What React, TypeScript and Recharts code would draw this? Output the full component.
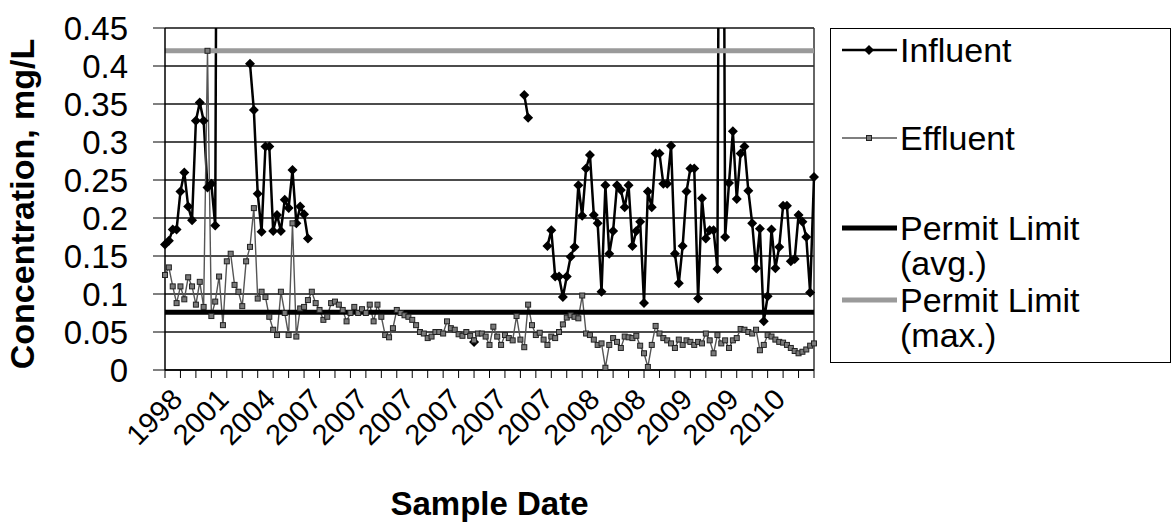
import { LineChart, Line, XAxis, YAxis, CartesianGrid, ReferenceLine } from "recharts";

const FONT = "'Liberation Sans', Arial, sans-serif";

// influent runs: [index of first sample, readings]. 1.5 marks readings off the top of the scale
const influent1998 = [0.165, 0.17, 0.185, 0.185, 0.235, 0.26, 0.215, 0.197, 0.328, 0.352, 0.328, 0.24, 0.245, 0.19, 1.5];
const influent2004 = [0.403, 0.342, 0.232, 0.182, 0.294, 0.294, 0.183, 0.204, 0.183, 0.224, 0.213, 0.263, 0.193, 0.215, 0.205, 0.173];
const influent2007a = [0.037];
const influent2007b = [0.362, 0.332];
const influent2007c = [
  0.163, 0.184, 0.123, 0.123, 0.096, 0.123, 0.149, 0.162, 0.243, 0.203,
  0.265, 0.283, 0.204, 0.193, 0.103, 0.243, 0.153, 0.183, 0.243, 0.237,
  0.214, 0.243, 0.163, 0.183, 0.195, 0.088, 0.235, 0.214, 0.285, 0.285,
  0.245, 0.245, 0.295, 0.153, 0.114, 0.163, 0.235, 0.265, 0.265, 0.094,
  0.226, 0.173, 0.184, 0.184, 0.133, 1.5, 0.175, 0.246, 0.314, 0.225,
  0.285, 0.294, 0.236, 0.193, 0.134, 0.186, 0.064, 0.097, 0.185, 0.134,
  0.162, 0.216, 0.216, 0.143, 0.146, 0.204, 0.195, 0.175, 0.102, 0.254,
];
const influentRuns: [number, number[]][] = [
  [0, influent1998],
  [22, influent2004],
  [80, influent2007a],
  [93, influent2007b],
  [99, influent2007c],
];

const effluent = [
  0.125, 0.135, 0.11, 0.088, 0.11, 0.093, 0.122, 0.11, 0.086, 0.116,
  0.083, 0.42, 0.071, 0.09, 0.123, 0.059, 0.143, 0.153, 0.112, 0.103,
  0.084, 0.143, 0.162, 0.213, 0.094, 0.103, 0.096, 0.07, 0.053, 0.046,
  0.103, 0.075, 0.046, 0.193, 0.044, 0.081, 0.083, 0.092, 0.103, 0.088,
  0.079, 0.066, 0.07, 0.088, 0.09, 0.086, 0.079, 0.064, 0.075, 0.083,
  0.075, 0.08, 0.075, 0.086, 0.064, 0.086, 0.07, 0.046, 0.043, 0.055,
  0.079, 0.075, 0.072, 0.07, 0.066, 0.059, 0.05, 0.048, 0.042, 0.044,
  0.05, 0.05, 0.048, 0.064, 0.055, 0.053, 0.047, 0.045, 0.05, 0.045,
  0.039, 0.048, 0.048, 0.044, 0.033, 0.057, 0.044, 0.033, 0.046, 0.042,
  0.039, 0.071, 0.04, 0.03, 0.086, 0.059, 0.046, 0.049, 0.04, 0.033,
  0.044, 0.042, 0.05, 0.06, 0.069, 0.072, 0.07, 0.068, 0.098, 0.048,
  0.046, 0.04, 0.033, 0.035, 0.003, 0.033, 0.042, 0.037, 0.029, 0.044,
  0.043, 0.042, 0.045, 0.032, 0.022, 0.004, 0.033, 0.058, 0.048, 0.042,
  0.039, 0.035, 0.029, 0.04, 0.033, 0.039, 0.037, 0.033, 0.037, 0.035,
  0.048, 0.039, 0.022, 0.046, 0.035, 0.039, 0.029, 0.039, 0.042, 0.054,
  0.053, 0.05, 0.048, 0.053, 0.026, 0.033, 0.046, 0.044, 0.04, 0.037,
  0.036, 0.033, 0.029, 0.025, 0.022, 0.024, 0.027, 0.032, 0.035,
];

const PERMIT_AVG = 0.076;
const PERMIT_MAX = 0.42;

const yTicks = [0, 0.05, 0.1, 0.15, 0.2, 0.25, 0.3, 0.35, 0.4, 0.45];
// one label every 12 samples
const yearLabels = ["1998", "2001", "2004", "2007", "2007", "2007", "2007", "2007", "2007", "2008", "2008", "2009", "2009", "2010"];

const influent: (number | null)[] = effluent.map(() => null);
influentRuns.forEach(([start, vals]) => {
  vals.forEach((v, k) => {
    influent[start + k] = v;
  });
});

const rows = effluent.map((e, i) => ({
  n: i,
  influent: influent[i],
  effluent: e,
  avg: PERMIT_AVG,
  max: PERMIT_MAX,
}));

function diamond(props: any) {
  const { cx, cy, index, value } = props;
  if (value == null || cy == null) return <g key={`in-${index}`} />;
  const r = 5;
  return (
    <path
      key={`in-${index}`}
      d={`M${cx},${cy - r}L${cx + r},${cy}L${cx},${cy + r}L${cx - r},${cy}Z`}
      fill="#000"
    />
  );
}

function square(props: any) {
  const { cx, cy, index, value } = props;
  if (value == null || cy == null) return <g key={`ef-${index}`} />;
  return (
    <rect key={`ef-${index}`} x={cx - 2.5} y={cy - 2.5} width={5} height={5} fill="#7a7a7a" stroke="#222" strokeWidth={1} />
  );
}

function YearTick(props: any) {
  const { x, y, payload } = props;
  const n = payload.value;
  if (n % 12 !== 0) return null;
  const ax = x + 12;
  const ay = y + 14;
  return (
    <text
      x={ax}
      y={ay}
      dy="0.35em"
      textAnchor="end"
      transform={`rotate(-45 ${ax} ${ay})`}
      fontSize={29}
      fontFamily={FONT}
      fill="#000"
    >
      {yearLabels[n / 12]}
    </text>
  );
}

function Legend() {
  const text = { fontSize: 34, fontFamily: FONT, fill: "#000" };
  return (
    <svg width={342} height={336} style={{ position: "absolute", left: 830, top: 28 }}>
      <rect x={0.5} y={0.5} width={340} height={334} fill="#fff" stroke="#000" strokeWidth={1} />
      <line x1={12} x2={67} y1={22} y2={22} stroke="#000" strokeWidth={2.5} />
      <path d="M39,17L44,22L39,27L34,22Z" fill="#000" />
      <text x={70} y={22} dy="0.35em" {...text}>Influent</text>

      <line x1={12} x2={67} y1={110} y2={110} stroke="#555" strokeWidth={1.3} />
      <rect x={36.5} y={107.5} width={5} height={5} fill="#7a7a7a" stroke="#222" />
      <text x={70} y={110} dy="0.35em" {...text}>Effluent</text>

      <line x1={12} x2={67} y1={200} y2={200} stroke="#000" strokeWidth={5} />
      <text x={70} y={200} dy="0.35em" {...text}>Permit Limit</text>
      <text x={70} y={235} dy="0.35em" {...text}>(avg.)</text>

      <line x1={12} x2={67} y1={272} y2={272} stroke="#9a9a9a" strokeWidth={5} />
      <text x={70} y={272} dy="0.35em" {...text}>Permit Limit</text>
      <text x={70} y={307} dy="0.35em" {...text}>(max.)</text>
    </svg>
  );
}

export default function App() {
  return (
    <div style={{ position: "absolute", left: 0, top: 0, width: 1172, height: 524, background: "#fff" }}>
      <LineChart width={1172} height={524} data={rows} margin={{ top: 28, right: 358, bottom: 0, left: 0 }}>
        <CartesianGrid horizontal vertical={false} stroke="#111" strokeWidth={1.5} />
        <XAxis
          dataKey="n"
          interval={3}
          tickSize={8}
          height={154}
          tick={YearTick}
          axisLine={{ stroke: "#000", strokeWidth: 1.5 }}
          tickLine={{ stroke: "#000" }}
          label={{
            content: (p: any) => (
              <text
                x={p.viewBox.x + p.viewBox.width / 2}
                y={p.viewBox.y + 145}
                textAnchor="middle"
                fontSize={33}
                fontWeight={700}
                fontFamily={FONT}
                fill="#000"
              >
                Sample Date
              </text>
            ),
          }}
        />
        <YAxis
          domain={[0, 0.45]}
          ticks={yTicks}
          interval={0}
          allowDataOverflow
          width={165}
          tickSize={12}
          tickMargin={25}
          tick={{ fontSize: 33, fill: "#000", fontFamily: FONT }}
          axisLine={{ stroke: "#000", strokeWidth: 1.5 }}
          tickLine={{ stroke: "#000" }}
          label={{
            content: (p: any) => {
              const cx = p.viewBox.x + 34;
              const cy = p.viewBox.y + p.viewBox.height / 2 + 5;
              return (
                <text
                  x={cx}
                  y={cy}
                  textAnchor="middle"
                  transform={`rotate(-90 ${cx} ${cy})`}
                  fontSize={34}
                  fontWeight={700}
                  fontFamily={FONT}
                  fill="#000"
                >
                  Concentration, mg/L
                </text>
              );
            },
          }}
        />
        <ReferenceLine x={rows.length - 1} stroke="#333" strokeWidth={1.5} />
        <Line dataKey="influent" stroke="#000" strokeWidth={2.5} dot={diamond} activeDot={false} isAnimationActive={false} />
        <Line dataKey="effluent" stroke="#555" strokeWidth={1.4} dot={square} activeDot={false} isAnimationActive={false} />
        <Line dataKey="avg" stroke="#000" strokeWidth={5} dot={false} activeDot={false} isAnimationActive={false} />
        <Line dataKey="max" stroke="#9a9a9a" strokeWidth={5} dot={false} activeDot={false} isAnimationActive={false} />
      </LineChart>
      <Legend />
    </div>
  );
}
